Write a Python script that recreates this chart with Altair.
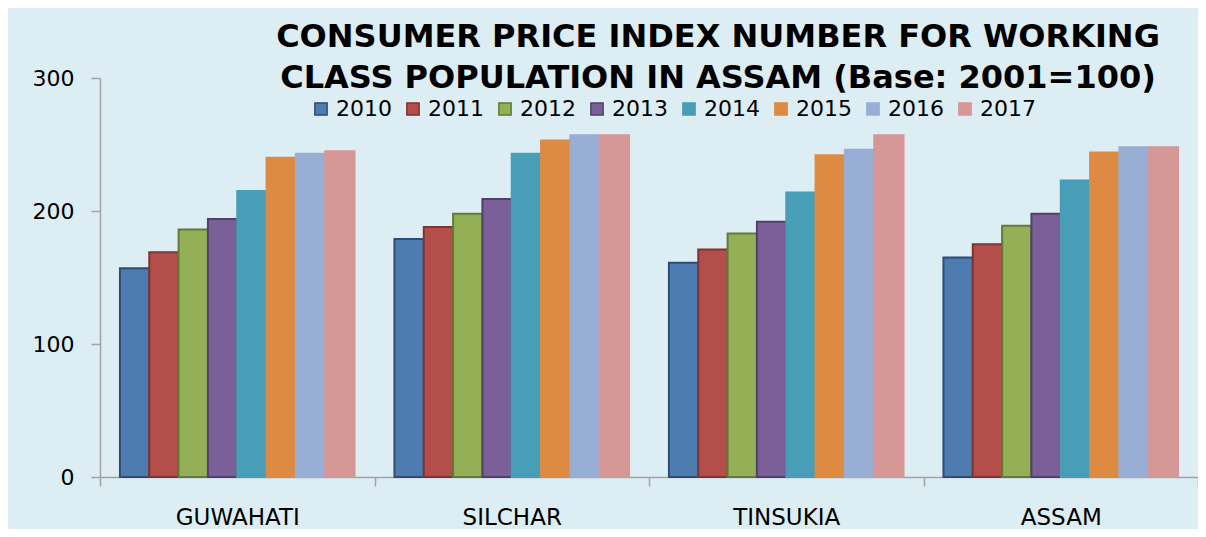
import altair as alt
import pandas as pd

cities = ["GUWAHATI", "SILCHAR", "TINSUKIA", "ASSAM"]
years = ["2010", "2011", "2012", "2013", "2014", "2015", "2016", "2017"]
guwahati = [157, 169, 186, 194, 215, 240, 243, 245]
silchar = [179, 188, 198, 209, 243, 253, 257, 257]
tinsukia = [161, 171, 183, 192, 214, 242, 246, 257]
assam = [165, 175, 189, 198, 223, 244, 248, 248]
y_ticks = [0, 100, 200, 300]

fill_colors = ["#4e7bb0", "#b44e4a", "#94b056", "#7b5f98",
               "#479eb6", "#dd8a43", "#99aed4", "#d69797"]
stroke_colors = ["#2f4d72", "#7e3431", "#627a36", "#53406a",
                 "#479eb6", "#dd8a43", "#99aed4", "#d69797"]

series = {"GUWAHATI": guwahati, "SILCHAR": silchar, "TINSUKIA": tinsukia, "ASSAM": assam}
rows = []
for c in cities:
    for y, v in zip(years, series[c]):
        rows.append({"City": c, "Year": y, "Value": v})
df = pd.DataFrame(rows)

axis_gray = "#a3a3a3"
font = "DejaVu Sans"

chart = alt.Chart(df).mark_bar(strokeWidth=2).encode(
    x=alt.X("City:N", sort=cities,
            scale=alt.Scale(paddingInner=0, paddingOuter=0),
            axis=alt.Axis(title=None, labelAngle=0, labelFontSize=23, labelFont=font,
                          labelColor="black", labelPadding=20, tickBand="extent",
                          tickSize=9, tickColor=axis_gray, domainColor=axis_gray,
                          domainWidth=1.5, tickWidth=1.5)),
    xOffset=alt.XOffset("Year:N", sort=years,
                        scale=alt.Scale(paddingInner=0, paddingOuter=0.68)),
    y=alt.Y("Value:Q", scale=alt.Scale(domain=[0, 300]),
            axis=alt.Axis(title=None, values=y_ticks, grid=False, labelFontSize=22,
                          labelFont=font, labelColor="black", labelPadding=17,
                          tickSize=9, tickColor=axis_gray, domainColor=axis_gray,
                          domainWidth=1.5, tickWidth=1.5)),
    color=alt.Color("Year:N", sort=years,
                    scale=alt.Scale(domain=years, range=fill_colors),
                    legend=alt.Legend(title=None, orient="none", legendX=210, legendY=20,
                                      direction="horizontal", symbolType="square",
                                      symbolSize=150, symbolStrokeWidth=1.5,
                                      labelFontSize=22, labelFont=font, labelColor="black",
                                      labelOffset=4, columnPadding=10)),
    stroke=alt.Stroke("Year:N", sort=years,
                      scale=alt.Scale(domain=years, range=stroke_colors)),
).properties(
    width=1098,
    height=399,
    title=alt.TitleParams(
        text=["CONSUMER PRICE INDEX NUMBER FOR WORKING",
              "CLASS POPULATION IN ASSAM (Base: 2001=100)"],
        fontSize=32, font=font, fontWeight="bold", color="black",
        anchor="middle", dx=69, dy=28, offset=0, lineHeight=41),
    autosize=alt.AutoSizeParams(type="none"),
    padding={"left": 92, "top": 70, "right": 0, "bottom": 52},
).configure(
    background="#ddedf4",
).configure_view(stroke=None)

chart.save("out.html", embed_options={"renderer": "svg", "actions": False})
